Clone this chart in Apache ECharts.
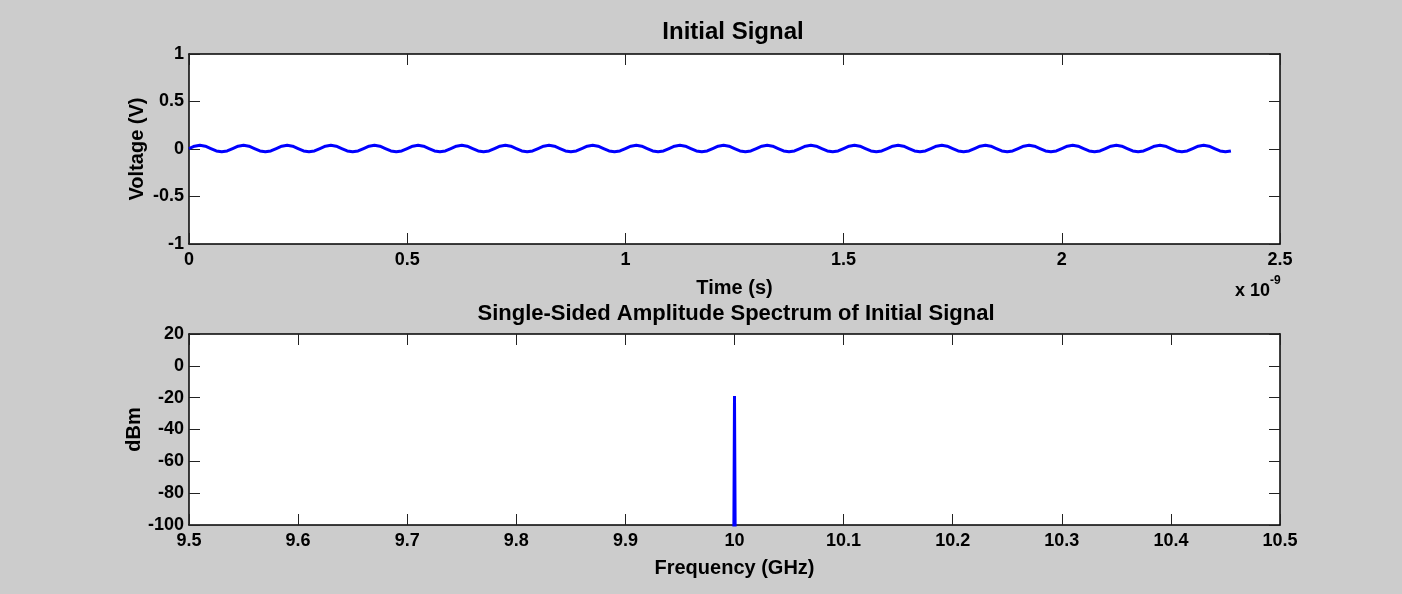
<!DOCTYPE html>
<html>
<head>
<meta charset="utf-8">
<title>Initial Signal</title>
<script src="https://cdn.jsdelivr.net/npm/echarts@6/dist/echarts.min.js"></script>
<style>
  html, body { margin: 0; padding: 0; background: #cccccc; }
  #main { width: 1402px; height: 594px; }
</style>
</head>
<body>
<div id="main"></div>
<script>
// time axis is in ns, shown with a "x 10^-9" multiplier like the original
var sampleStepNs = 0.0125;
var signalVolts = [
  0.005, 0.03, 0.04, 0.03, 0.005, -0.02, -0.03, -0.02,
  0.005, 0.03, 0.04, 0.03, 0.005, -0.02, -0.03, -0.02,
  0.005, 0.03, 0.04, 0.03, 0.005, -0.02, -0.03, -0.02,
  0.005, 0.03, 0.04, 0.03, 0.005, -0.02, -0.03, -0.02,
  0.005, 0.03, 0.04, 0.03, 0.005, -0.02, -0.03, -0.02,
  0.005, 0.03, 0.04, 0.03, 0.005, -0.02, -0.03, -0.02,
  0.005, 0.03, 0.04, 0.03, 0.005, -0.02, -0.03, -0.02,
  0.005, 0.03, 0.04, 0.03, 0.005, -0.02, -0.03, -0.02,
  0.005, 0.03, 0.04, 0.03, 0.005, -0.02, -0.03, -0.02,
  0.005, 0.03, 0.04, 0.03, 0.005, -0.02, -0.03, -0.02,
  0.005, 0.03, 0.04, 0.03, 0.005, -0.02, -0.03, -0.02,
  0.005, 0.03, 0.04, 0.03, 0.005, -0.02, -0.03, -0.02,
  0.005, 0.03, 0.04, 0.03, 0.005, -0.02, -0.03, -0.02,
  0.005, 0.03, 0.04, 0.03, 0.005, -0.02, -0.03, -0.02,
  0.005, 0.03, 0.04, 0.03, 0.005, -0.02, -0.03, -0.02,
  0.005, 0.03, 0.04, 0.03, 0.005, -0.02, -0.03, -0.02,
  0.005, 0.03, 0.04, 0.03, 0.005, -0.02, -0.03, -0.02,
  0.005, 0.03, 0.04, 0.03, 0.005, -0.02, -0.03, -0.02,
  0.005, 0.03, 0.04, 0.03, 0.005, -0.02, -0.03, -0.02,
  0.005, 0.03, 0.04, 0.03, 0.005, -0.02, -0.03, -0.02,
  0.005, 0.03, 0.04, 0.03, 0.005, -0.02, -0.03, -0.02,
  0.005, 0.03, 0.04, 0.03, 0.005, -0.02, -0.03, -0.02,
  0.005, 0.03, 0.04, 0.03, 0.005, -0.02, -0.03, -0.02,
  0.005, 0.03, 0.04, 0.03, 0.005, -0.02, -0.03, -0.02
];

var spectrumFreqGHz = [9.999, 10.0, 10.001];
var spectrumDbm = [-160, -19, -160];

var timeTicks = [0, 0.5, 1, 1.5, 2, 2.5];
var voltTicks = [-1, -0.5, 0, 0.5, 1];
var freqTicks = [9.5, 9.6, 9.7, 9.8, 9.9, 10, 10.1, 10.2, 10.3, 10.4, 10.5];
var dbmTicks = [-100, -80, -60, -40, -20, 0, 20];

var signalData = [];
for (var i = 0; i < signalVolts.length; i++) {
  signalData.push([i * sampleStepNs, signalVolts[i]]);
}
var spectrumData = [];
for (var j = 0; j < spectrumFreqGHz.length; j++) {
  spectrumData.push([spectrumFreqGHz[j], spectrumDbm[j]]);
}

var font = 'Liberation Sans, Arial, sans-serif';
var labelStyle = { color: '#000', fontSize: 18, fontWeight: 'bold', fontFamily: font };
var nameStyle = { color: '#000', fontSize: 20, fontWeight: 'bold', fontFamily: font };
var tidy = function (v) { return String(+v.toFixed(2)); };

function mainAxis(grid, pos, ticks, extra) {
  var ax = {
    type: 'value', gridIndex: grid, position: pos,
    min: ticks[0], max: ticks[ticks.length - 1],
    interval: ticks[1] - ticks[0],
    nameMoveOverlap: false,
    axisLine: { show: true, onZero: false, lineStyle: { color: '#000', width: 1.5 } },
    axisTick: { show: true, inside: true, length: 11, lineStyle: { color: '#222', width: 1 } },
    axisLabel: Object.assign({ margin: (pos == 'left' ? 5 : 7), formatter: tidy }, labelStyle),
    splitLine: { show: false }
  };
  return Object.assign(ax, extra || {});
}
function mirrorAxis(grid, pos, ticks) {
  var ax = mainAxis(grid, pos, ticks);
  ax.axisLabel = { show: false };
  return ax;
}

var myChart = echarts.init(document.getElementById('main'));
var option = {
  backgroundColor: '#cccccc',
  animation: false,
  title: [
    { text: 'Initial Signal', left: 728, textAlign: 'center', top: 15,
      textStyle: { color: '#000', fontSize: 24, fontWeight: 'bold', fontFamily: font } },
    { text: 'Single-Sided Amplitude Spectrum of Initial Signal', left: 731, textAlign: 'center', top: 298,
      textStyle: { color: '#000', fontSize: 22, fontWeight: 'bold', fontFamily: font } }
  ],
  grid: [
    { left: 189, top: 54, width: 1091, height: 190, show: true, backgroundColor: '#fff', borderWidth: 0 },
    { left: 189, top: 334, width: 1091, height: 191, show: true, backgroundColor: '#fff', borderWidth: 0 }
  ],
  xAxis: [
    mainAxis(0, 'bottom', timeTicks, { name: 'Time (s)', nameLocation: 'middle', nameGap: 34, nameTextStyle: nameStyle }),
    mirrorAxis(0, 'top', timeTicks),
    mainAxis(1, 'bottom', freqTicks, { name: 'Frequency (GHz)', nameLocation: 'middle', nameGap: 33, nameTextStyle: nameStyle }),
    mirrorAxis(1, 'top', freqTicks)
  ],
  yAxis: [
    mainAxis(0, 'left', voltTicks, { name: 'Voltage (V)', nameLocation: 'middle', nameGap: 42, nameTextStyle: nameStyle }),
    mirrorAxis(0, 'right', voltTicks),
    mainAxis(1, 'left', dbmTicks, { name: 'dBm', nameLocation: 'middle', nameGap: 45, nameTextStyle: nameStyle }),
    mirrorAxis(1, 'right', dbmTicks)
  ],
  graphic: [
    { type: 'text', left: 1235, top: 282,
      style: { text: 'x 10', fontSize: 18, fontWeight: 'bold', fontFamily: font, fill: '#000' } },
    { type: 'text', left: 1270, top: 275,
      style: { text: '-9', fontSize: 12, fontWeight: 'bold', fontFamily: font, fill: '#000' } }
  ],
  series: [
    {
      type: 'line', xAxisIndex: 0, yAxisIndex: 0,
      data: signalData, showSymbol: false, clip: true,
      lineStyle: { color: '#0000ff', width: 3 }
    },
    {
      type: 'line', xAxisIndex: 2, yAxisIndex: 2,
      data: spectrumData, showSymbol: false, clip: true,
      lineStyle: { color: '#0000ff', width: 3 }
    }
  ]
};
myChart.setOption(option, true);
window.addEventListener('resize', function () {
  myChart.resize();
});
</script>
</body>
</html>
